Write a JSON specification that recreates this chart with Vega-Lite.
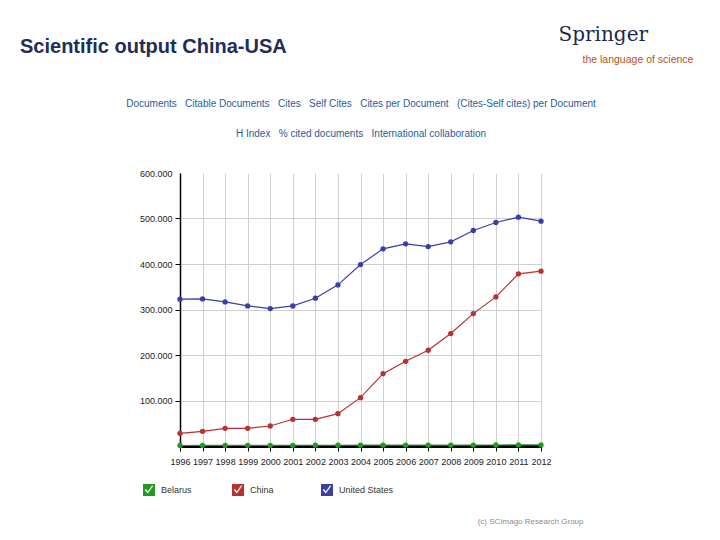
{
  "$schema": "https://vega.github.io/schema/vega-lite/v6.json",
  "width": 361,
  "height": 273,
  "autosize": {"type": "none"},
  "padding": {"left": 180, "top": 173, "right": 179, "bottom": 94},
  "background": "white",
  "title": {
    "text": "Scientific output China-USA",
    "anchor": "start",
    "frame": "group",
    "dx": -160,
    "offset": -33,
    "font": "Liberation Sans",
    "fontSize": 20,
    "fontWeight": "bold",
    "color": "#1f2d5a"
  },
  "config": {"view": {"stroke": null}, "font": "Liberation Sans"},
  "data": {
    "values": [
      {"year": 1996, "country": "United States", "value": 322600},
      {"year": 1997, "country": "United States", "value": 323300},
      {"year": 1998, "country": "United States", "value": 316700},
      {"year": 1999, "country": "United States", "value": 307900},
      {"year": 2000, "country": "United States", "value": 302000},
      {"year": 2001, "country": "United States", "value": 307900},
      {"year": 2002, "country": "United States", "value": 324800},
      {"year": 2003, "country": "United States", "value": 354100},
      {"year": 2004, "country": "United States", "value": 398800},
      {"year": 2005, "country": "United States", "value": 433300},
      {"year": 2006, "country": "United States", "value": 444300},
      {"year": 2007, "country": "United States", "value": 438400},
      {"year": 2008, "country": "United States", "value": 448700},
      {"year": 2009, "country": "United States", "value": 473600},
      {"year": 2010, "country": "United States", "value": 491200},
      {"year": 2011, "country": "United States", "value": 503000},
      {"year": 2012, "country": "United States", "value": 494100},
      {"year": 1996, "country": "China", "value": 27900},
      {"year": 1997, "country": "China", "value": 32300},
      {"year": 1998, "country": "China", "value": 38900},
      {"year": 1999, "country": "China", "value": 38900},
      {"year": 2000, "country": "China", "value": 44000},
      {"year": 2001, "country": "China", "value": 58700},
      {"year": 2002, "country": "China", "value": 58700},
      {"year": 2003, "country": "China", "value": 71100},
      {"year": 2004, "country": "China", "value": 106300},
      {"year": 2005, "country": "China", "value": 159100},
      {"year": 2006, "country": "China", "value": 186200},
      {"year": 2007, "country": "China", "value": 210400},
      {"year": 2008, "country": "China", "value": 247100},
      {"year": 2009, "country": "China", "value": 291000},
      {"year": 2010, "country": "China", "value": 327700},
      {"year": 2011, "country": "China", "value": 378300},
      {"year": 2012, "country": "China", "value": 384200},
      {"year": 1996, "country": "Belarus", "value": 1100},
      {"year": 1997, "country": "Belarus", "value": 1200},
      {"year": 1998, "country": "Belarus", "value": 1300},
      {"year": 1999, "country": "Belarus", "value": 1400},
      {"year": 2000, "country": "Belarus", "value": 1500},
      {"year": 2001, "country": "Belarus", "value": 1600},
      {"year": 2002, "country": "Belarus", "value": 1700},
      {"year": 2003, "country": "Belarus", "value": 1700},
      {"year": 2004, "country": "Belarus", "value": 1800},
      {"year": 2005, "country": "Belarus", "value": 1900},
      {"year": 2006, "country": "Belarus", "value": 2000},
      {"year": 2007, "country": "Belarus", "value": 2000},
      {"year": 2008, "country": "Belarus", "value": 2000},
      {"year": 2009, "country": "Belarus", "value": 2100},
      {"year": 2010, "country": "Belarus", "value": 2200},
      {"year": 2011, "country": "Belarus", "value": 2300},
      {"year": 2012, "country": "Belarus", "value": 2300}
    ]
  },
  "layer": [
    {
      "mark": {"type": "line", "strokeWidth": 1.2},
      "encoding": {
        "x": {
          "field": "year",
          "type": "quantitative",
          "scale": {"domain": [1996, 2012], "nice": false, "zero": false},
          "axis": {
            "orient": "bottom",
            "values": [1996, 1997, 1998, 1999, 2000, 2001, 2002, 2003, 2004, 2005, 2006, 2007, 2008, 2009, 2010, 2011, 2012],
            "format": "d",
            "labelFont": "Liberation Sans",
            "labelFontSize": 9,
            "labelColor": "#222222",
            "labelPadding": 6,
            "labelFlush": false,
            "labelOverlap": false,
            "tickColor": "black",
            "tickSize": 5,
            "tickWidth": 1,
            "domainColor": "black",
            "domainWidth": 3,
            "grid": true,
            "gridColor": "#d0d0d0",
            "gridWidth": 1,
            "title": "(c) SCImago Research Group",
            "titleX": 403,
            "titleY": 77,
            "titleAlign": "right",
            "titleBaseline": "alphabetic",
            "titleFont": "Liberation Sans",
            "titleFontSize": 8,
            "titleFontWeight": "normal",
            "titleColor": "#8a8a8a"
          }
        },
        "y": {
          "field": "value",
          "type": "quantitative",
          "scale": {"domain": [0, 600000], "nice": false},
          "axis": {
            "orient": "left",
            "values": [100000, 200000, 300000, 400000, 500000, 600000],
            "labelExpr": "replace(format(datum.value, ',d'), ',', '.')",
            "labelFont": "Liberation Sans",
            "labelFontSize": 9,
            "labelColor": "#222222",
            "labelPadding": 3,
            "tickSize": 5,
            "tickWidth": 1,
            "tickColor": {"condition": {"test": "datum.value >= 600000", "value": "transparent"}, "value": "black"},
            "domainColor": "black",
            "domainWidth": 1.5,
            "grid": true,
            "gridColor": {"condition": {"test": "datum.value >= 600000", "value": "transparent"}, "value": "#d0d0d0"},
            "gridWidth": 1,
            "title": "the language of science",
            "titleAngle": 0,
            "titleX": 402,
            "titleY": -111,
            "titleAlign": "left",
            "titleBaseline": "alphabetic",
            "titleFont": "Liberation Sans",
            "titleFontSize": 10.5,
            "titleFontWeight": "normal",
            "titleColor": "#b4541f"
          }
        },
        "color": {
          "field": "country",
          "type": "nominal",
          "scale": {"domain": ["Belarus", "China", "United States"], "range": ["#229a22", "#b83030", "#3840a8"]},
          "legend": {
            "orient": "none",
            "legendX": -37,
            "legendY": 311,
            "direction": "horizontal",
            "title": null,
            "padding": 0,
            "gridAlign": "all",
            "columnPadding": 16,
            "symbolType": "M-1,-1H1V1H-1Z M-0.7,0L-0.2,0.6L0.7,-0.65L0.5,-0.75L-0.2,0.25L-0.5,-0.15Z",
            "symbolSize": 144,
            "symbolStrokeWidth": 0,
            "symbolOpacity": 1,
            "labelOffset": 6,
            "labelFont": "Liberation Sans",
            "labelFontSize": 9,
            "labelColor": "#333333"
          }
        }
      }
    },
    {
      "mark": {"type": "point", "filled": true, "size": 28, "opacity": 1},
      "encoding": {
        "x": {
          "field": "year",
          "type": "quantitative",
          "axis": {
            "orient": "top",
            "labels": false,
            "ticks": false,
            "domain": false,
            "grid": false,
            "title": [
              "Documents\u00a0\u00a0\u00a0Citable Documents\u00a0\u00a0\u00a0Cites\u00a0\u00a0\u00a0Self Cites\u00a0\u00a0\u00a0Cites per Document\u00a0\u00a0\u00a0(Cites-Self cites) per Document",
              "H Index\u00a0\u00a0\u00a0% cited documents\u00a0\u00a0\u00a0International collaboration"
            ],
            "titleFont": "Liberation Sans",
            "titleFontSize": 10,
            "titleFontWeight": "normal",
            "titleColor": "#2a5b96",
            "titleLineHeight": 30,
            "titlePadding": 35
          }
        },
        "y": {
          "field": "value",
          "type": "quantitative",
          "axis": {
            "orient": "right",
            "labels": false,
            "ticks": false,
            "domain": false,
            "grid": false,
            "title": "Springer",
            "titleAngle": 0,
            "titleX": 17,
            "titleY": -133,
            "titleAlign": "left",
            "titleBaseline": "alphabetic",
            "titleFont": "DejaVu Serif",
            "titleFontSize": 20,
            "titleFontWeight": "normal",
            "titleColor": "#1b2a4a"
          }
        },
        "color": {"field": "country", "type": "nominal"}
      }
    }
  ],
  "resolve": {"axis": {"x": "independent", "y": "independent"}}
}
